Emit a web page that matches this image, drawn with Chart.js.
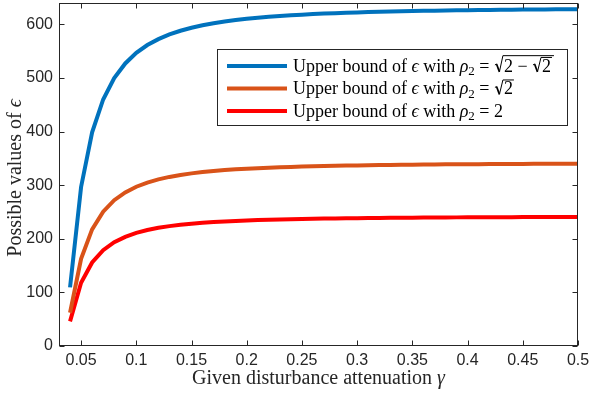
<!DOCTYPE html>
<html>
<head>
<meta charset="utf-8">
<script src="https://cdn.jsdelivr.net/npm/chart.js@4.4.0/dist/chart.umd.min.js"></script>
<style>
  html, body { margin: 0; padding: 0; background: #fff; }
</style>
</head>
<body>
<canvas id="chart" width="590" height="396"></canvas>
<script>
// data
const gammaValues = [0.04, 0.05, 0.06, 0.07, 0.08, 0.09, 0.10, 0.11, 0.12, 0.13, 0.14, 0.15,
  0.16, 0.17, 0.18, 0.19, 0.20, 0.21, 0.22, 0.23, 0.24, 0.25, 0.26, 0.27, 0.28, 0.29, 0.30,
  0.31, 0.32, 0.33, 0.34, 0.35, 0.36, 0.37, 0.38, 0.39, 0.40, 0.41, 0.42, 0.43, 0.44, 0.45,
  0.46, 0.47, 0.48, 0.49, 0.50];
const boundRhoSqrt2m = [109.4, 296.8, 398.6, 460.0, 499.8, 527.2, 546.9, 561.5, 572.6, 581.3,
  588.2, 593.8, 598.4, 602.2, 605.4, 608.1, 610.5, 612.5, 614.2, 615.8, 617.1, 618.3,
  619.3, 620.3, 621.1, 621.8, 622.5, 623.1, 623.7, 624.2, 624.6, 625.0, 625.4, 625.7,
  626.0, 626.3, 626.6, 626.8, 627.1, 627.3, 627.5, 627.7, 627.9, 628.0, 628.2, 628.3, 628.5];
const boundRhoSqrt2 = [62.0, 162.8, 217.6, 250.6, 272.0, 286.7, 297.2, 305.0, 310.9, 315.5,
  319.1, 322.1, 324.5, 326.5, 328.2, 329.6, 330.8, 331.8, 332.7, 333.5, 334.2, 334.8,
  335.4, 335.9, 336.3, 336.7, 337.0, 337.3, 337.6, 337.9, 338.1, 338.3, 338.5, 338.7,
  338.9, 339.1, 339.2, 339.3, 339.5, 339.6, 339.7, 339.8, 339.9, 340.0, 340.1, 340.1, 340.2];
const boundRho2 = [46.0, 118.0, 155.9, 178.7, 193.6, 203.7, 211.0, 216.4, 220.5, 223.7,
  226.2, 228.2, 229.9, 231.3, 232.4, 233.4, 234.3, 235.0, 235.6, 236.1, 236.6, 237.0,
  237.4, 237.7, 238.0, 238.3, 238.6, 238.8, 239.0, 239.2, 239.3, 239.5, 239.6, 239.7,
  239.9, 240.0, 240.1, 240.2, 240.2, 240.3, 240.4, 240.5, 240.5, 240.6, 240.7, 240.7, 240.8];
const seriesLabels = [
  'Upper bound of ϵ with ρ₂ = √(2 − √(2))',
  'Upper bound of ϵ with ρ₂ = √(2)',
  'Upper bound of ϵ with ρ₂ = 2'
];
const seriesColors = ['#0072BD', '#D95319', '#FF0000'];
const xTickValues = [0.05, 0.1, 0.15, 0.2, 0.25, 0.3, 0.35, 0.4, 0.45, 0.5];
const xTickLabels = ['0.05', '0.1', '0.15', '0.2', '0.25', '0.3', '0.35', '0.4', '0.45', '0.5'];
const yTickValues = [0, 100, 200, 300, 400, 500, 600];
const yTickLabels = ['0', '100', '200', '300', '400', '500', '600'];
const xTitle = 'Given disturbance attenuation γ';
const yTitle = 'Possible values of ϵ';

const serif = '"Liberation Serif", "DejaVu Serif", serif';
const sans = '"Liberation Sans", Arial, sans-serif';
const axisColor = '#262626';

// tiny renderer for the bits of math in the labels
function mathRun(ctx, s, x, y, size, draw) {
  let cx = x, i = 0;
  while (i < s.length) {
    const ch = s[i];
    if (ch === '√' && s[i + 1] === '(') {
      let depth = 0, j = i + 1;
      for (; j < s.length; j++) {
        if (s[j] === '(') depth++;
        else if (s[j] === ')') { depth--; if (depth === 0) break; }
      }
      const inner = s.slice(i + 2, j);
      const rw = size * 0.55;
      const iw = mathRun(ctx, inner, cx + rw, y, size, false);
      const top = y - size * (0.78 + 0.1 * (inner.indexOf('√') >= 0 ? 1 : 0));
      if (draw) {
        ctx.save();
        ctx.strokeStyle = ctx.fillStyle;
        ctx.lineWidth = 1;
        ctx.beginPath();
        ctx.moveTo(cx + size * 0.05, y - size * 0.36);
        ctx.lineTo(cx + size * 0.14, y - size * 0.42);
        ctx.stroke();
        ctx.lineWidth = 1.7;
        ctx.beginPath();
        ctx.moveTo(cx + size * 0.14, y - size * 0.42);
        ctx.lineTo(cx + size * 0.3, y + size * 0.02);
        ctx.stroke();
        ctx.lineWidth = 1;
        ctx.beginPath();
        ctx.moveTo(cx + size * 0.3, y + size * 0.02);
        ctx.lineTo(cx + rw - 1, top);
        ctx.lineTo(cx + rw + iw + 1, top);
        ctx.stroke();
        ctx.restore();
        mathRun(ctx, inner, cx + rw, y, size, true);
      }
      cx += rw + iw + 2;
      i = j + 1;
      continue;
    }
    let font = size + 'px ' + serif, dy = 0, txt = ch;
    if ('ϵργ'.indexOf(ch) >= 0) font = 'italic ' + size + 'px ' + serif;
    if (ch === '₂') { txt = '2'; font = Math.round(size * 0.7) + 'px ' + serif; dy = size * 0.22; }
    ctx.font = font;
    if (draw) ctx.fillText(txt, cx, y + dy);
    cx += ctx.measureText(txt).width;
    i++;
  }
  return cx - x;
}

const boxPlugin = {
  id: 'matlabBox',
  afterDatasetsDraw(chart) {
    const { ctx, chartArea: a, scales } = chart;
    const L = Math.round(a.left) + 0.5, R = Math.round(a.right) - 0.5;
    const T = Math.round(a.top) + 0.5, B = Math.round(a.bottom) - 0.5;
    ctx.save();
    ctx.strokeStyle = axisColor;
    ctx.lineWidth = 1;
    ctx.strokeRect(L, T, R - L, B - T);
    ctx.beginPath();
    scales.x.ticks.forEach(t => {
      const px = Math.round(scales.x.getPixelForValue(t.value)) + 0.5;
      ctx.moveTo(px, B); ctx.lineTo(px, B - 5);
      ctx.moveTo(px, T); ctx.lineTo(px, T + 5);
    });
    scales.y.ticks.forEach(t => {
      const py = Math.round(scales.y.getPixelForValue(t.value)) + 0.5;
      ctx.moveTo(L, py); ctx.lineTo(L + 5, py);
      ctx.moveTo(R, py); ctx.lineTo(R - 5, py);
    });
    ctx.stroke();
    ctx.restore();
  },
  afterDraw(chart) {
    const { ctx, chartArea: a } = chart;
    ctx.save();
    ctx.fillStyle = axisColor;
    ctx.textBaseline = 'alphabetic';
    // axis titles
    const fs = 20;
    const xw = mathRun(ctx, xTitle, 0, 0, fs, false);
    mathRun(ctx, xTitle, (a.left + a.right) / 2 - xw / 2, 384, fs, true);
    const yw = mathRun(ctx, yTitle, 0, 0, fs, false);
    ctx.translate(21, 178);
    ctx.rotate(-Math.PI / 2);
    mathRun(ctx, yTitle, -yw / 2, 0, fs, true);
    ctx.restore();

    // legend box
    ctx.save();
    const bx = 217, by = 49, bw = 350, bh = 76;
    ctx.fillStyle = '#fff';
    ctx.fillRect(bx, by, bw, bh);
    ctx.strokeStyle = '#262626';
    ctx.lineWidth = 1;
    ctx.strokeRect(bx + 0.5, by + 0.5, bw, bh);
    chart.data.datasets.forEach((ds, i) => {
      const ly = 66 + i * 22.5;
      ctx.strokeStyle = ds.borderColor;
      ctx.lineWidth = ds.borderWidth;
      ctx.beginPath();
      ctx.moveTo(227, ly); ctx.lineTo(287, ly);
      ctx.stroke();
      ctx.fillStyle = '#000';
      mathRun(ctx, ds.label, 293, ly + 5.5, 18, true);
    });
    ctx.restore();
  }
};

const datasets = [boundRhoSqrt2m, boundRhoSqrt2, boundRho2].map((vals, k) => ({
  label: seriesLabels[k],
  data: gammaValues.map((g, i) => ({ x: g, y: vals[i] })),
  borderColor: seriesColors[k],
  backgroundColor: seriesColors[k],
  borderWidth: 4,
  pointRadius: 0,
  tension: 0,
  fill: false
}));

const noPad = s => { s.paddingTop = 0; s.paddingBottom = 0; s.paddingLeft = 0; s.paddingRight = 0; };

new Chart(document.getElementById('chart').getContext('2d'), {
  type: 'line',
  data: { datasets },
  options: {
    responsive: false,
    animation: false,
    layout: { padding: { left: 0, right: 12, top: 3, bottom: 0 } },
    plugins: { legend: { display: false }, tooltip: { enabled: false } },
    scales: {
      x: {
        type: 'linear', min: 0.03, max: 0.5,
        afterBuildTicks: s => { s.ticks = xTickValues.map(v => ({ value: v })); },
        afterFit: s => { s.height = 50; noPad(s); },
        grid: { display: false, drawTicks: false, tickLength: 0 }, border: { display: false },
        ticks: {
          callback: (v, i) => xTickLabels[i],
          font: { family: sans, size: 16 }, color: axisColor,
          padding: 5, maxRotation: 0, autoSkip: false
        }
      },
      y: {
        type: 'linear', min: 0, max: 640,
        afterBuildTicks: s => { s.ticks = yTickValues.map(v => ({ value: v })); },
        afterFit: s => { s.width = 59; noPad(s); },
        grid: { display: false, drawTicks: false, tickLength: 0 }, border: { display: false },
        ticks: {
          callback: (v, i) => yTickLabels[i],
          font: { family: sans, size: 16 }, color: axisColor,
          padding: 6, autoSkip: false
        }
      }
    }
  },
  plugins: [boxPlugin]
});
</script>
</body>
</html>
